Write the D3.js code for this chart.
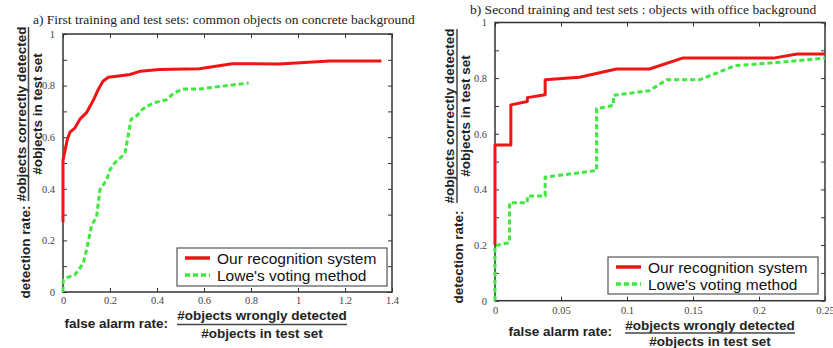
<!DOCTYPE html>
<html>
<head>
<meta charset="utf-8">
<script src="https://cdn.jsdelivr.net/npm/d3@7"></script>
<style>
    body { margin: 0; background: #fff; }
    svg { display: block; }
    .tick text { font-family: "Liberation Serif", "DejaVu Serif", serif; font-size: 10.5px; fill: #444; }
    .tick line { stroke: #333; }
    .title { font-family: "Liberation Serif", serif; font-size: 13.5px; fill: #222; }
    .axis-label { font-family: "Liberation Sans", Arial, sans-serif; font-size: 13.5px; font-weight: bold; fill: #222; }
    .legend-text { font-family: "Liberation Sans", Arial, sans-serif; font-size: 15.5px; fill: #111; }
</style>
</head>
<body>
<svg id="chart" width="833" height="348"></svg>
<script>
// values: [false alarm rate, detection rate]
const oursFirst = [
    [0, 0.27], [0, 0.51], [0.009, 0.55], [0.018, 0.59], [0.03, 0.62], [0.05, 0.635],
    [0.072, 0.67], [0.10, 0.695], [0.13, 0.745], [0.15, 0.785], [0.17, 0.817],
    [0.193, 0.832], [0.228, 0.836], [0.285, 0.843], [0.33, 0.856], [0.41, 0.862],
    [0.58, 0.865], [0.72, 0.885], [0.92, 0.884], [1.135, 0.895], [1.355, 0.895]
];
const loweFirst = [
    [0, 0], [0.001, 0.045], [0.016, 0.056], [0.05, 0.066], [0.072, 0.093], [0.086, 0.11],
    [0.1, 0.163], [0.122, 0.26], [0.143, 0.29], [0.157, 0.396], [0.186, 0.435],
    [0.2, 0.474], [0.22, 0.5], [0.25, 0.525], [0.264, 0.54], [0.274, 0.59],
    [0.29, 0.67], [0.31, 0.68], [0.34, 0.71], [0.385, 0.733], [0.44, 0.745],
    [0.47, 0.77], [0.51, 0.787], [0.58, 0.787], [0.79, 0.81]
];
const oursSecond = [
    [0, 0.2], [0, 0.56], [0.012, 0.56], [0.012, 0.704], [0.0245, 0.716], [0.0245, 0.73],
    [0.038, 0.74], [0.038, 0.794], [0.064, 0.803], [0.092, 0.833], [0.117, 0.833],
    [0.142, 0.872], [0.211, 0.872], [0.229, 0.887], [0.25, 0.887]
];
const loweSecond = [
    [0, 0], [0, 0.198], [0.011, 0.209], [0.011, 0.352], [0.0245, 0.352], [0.0245, 0.376],
    [0.038, 0.376], [0.038, 0.444], [0.077, 0.468], [0.077, 0.69], [0.0897, 0.702],
    [0.0897, 0.738], [0.117, 0.755], [0.13, 0.794], [0.155, 0.794], [0.182, 0.845],
    [0.208, 0.854], [0.25, 0.872]
];

const titles = [
    "a) First training and test sets: common objects on concrete background",
    "b) Second training and test sets : objects with office background"
];
const seriesNames = ["Our recognition system", "Lowe's voting method"];
const yTickValues = [0, 0.1, 0.2, 0.3, 0.4, 0.5, 0.6, 0.7, 0.8, 0.9, 1];
const xTickValuesFirst = [0, 0.2, 0.4, 0.6, 0.8, 1, 1.2, 1.4];
const xTickValuesSecond = [0, 0.05, 0.1, 0.15, 0.2, 0.25];
const yLabel = ["detection rate:", "#objects correctly detected", "#objects in test set"];
const xLabel = ["false alarm rate:", "#objects wrongly detected", "#objects in test set"];

const colors = { ours: "#ee1515", lowe: "#3ee83e" };

const svg = d3.select("#chart");

const panels = [
    {
        title: titles[0], titleX: 33, titleY: 24,
        left: 63, right: 392, top: 34, bottom: 292, xMax: 1.4,
        xTicks: xTickValuesFirst, xPad: 5,
        ours: oursFirst, lowe: loweFirst,
        yLab: { rateX: 30, rateY: 252, numX: 25.5, denX: 42, fracY: 114, lineX: 28.5, half: 87 },
        xLab: { rateX: 168, rateY: 328, numY: 320, denY: 338, fracX: 262, lineY: 324.5, half: 85 },
        legend: { x: 177, y: 248, w: 210, h: 38 }
    },
    {
        title: titles[1], titleX: 470, titleY: 14,
        left: 495, right: 825, top: 22.5, bottom: 300.7, xMax: 0.25,
        xTicks: xTickValuesSecond, xPad: 6,
        ours: oursSecond, lowe: loweSecond,
        yLab: { rateX: 463, rateY: 257, numX: 454, denX: 470, fracY: 116, lineX: 457, half: 87 },
        xLab: { rateX: 612, rateY: 336, numY: 329.5, denY: 345.5, fracX: 710, lineY: 333, half: 85 },
        legend: { x: 608, y: 257, w: 210, h: 37 }
    }
];

function drawPanel(p) {
    const g = svg.append("g");

    const x = d3.scaleLinear().domain([0, p.xMax]).range([p.left, p.right]);
    const y = d3.scaleLinear().domain([0, 1]).range([p.bottom, p.top]);

    // title
    g.append("text")
        .attr("class", "title")
        .attr("x", p.titleX)
        .attr("y", p.titleY)
        .text(p.title);

    // axes, ticks pointing inward on all four sides
    g.append("g")
        .attr("transform", `translate(0,${p.bottom})`)
        .call(d3.axisBottom(x).tickValues(p.xTicks).tickSizeInner(-4).tickSizeOuter(0)
            .tickPadding(p.xPad).tickFormat(d3.format("~g")))
        .call(a => a.select(".domain").remove());
    g.append("g")
        .attr("transform", `translate(0,${p.top})`)
        .call(d3.axisTop(x).tickValues(p.xTicks).tickSizeInner(-4).tickSizeOuter(0).tickFormat(""))
        .call(a => a.select(".domain").remove());
    g.append("g")
        .attr("transform", `translate(${p.left},0)`)
        .call(d3.axisLeft(y).tickValues(yTickValues).tickSizeInner(-4).tickSizeOuter(0)
            .tickPadding(8).tickFormat((d, i) => i % 2 ? "" : d3.format("~g")(d)))
        .call(a => a.select(".domain").remove());
    g.append("g")
        .attr("transform", `translate(${p.right},0)`)
        .call(d3.axisRight(y).tickValues(yTickValues).tickSizeInner(-4).tickSizeOuter(0).tickFormat(""))
        .call(a => a.select(".domain").remove());

    g.append("rect")
        .attr("x", p.left)
        .attr("y", p.top)
        .attr("width", p.right - p.left)
        .attr("height", p.bottom - p.top)
        .attr("fill", "none")
        .attr("stroke", "#333")
        .attr("stroke-width", 1.5);

    // curves
    const line = d3.line().x(d => x(d[0])).y(d => y(d[1]));

    g.append("path")
        .datum(p.ours)
        .attr("d", line)
        .attr("fill", "none")
        .attr("stroke", colors.ours)
        .attr("stroke-width", 3)
        .attr("stroke-linejoin", "round");

    g.append("path")
        .datum(p.lowe)
        .attr("d", line)
        .attr("fill", "none")
        .attr("stroke", colors.lowe)
        .attr("stroke-width", 3)
        .attr("stroke-dasharray", "5,3");

    // y axis label (rotated fraction)
    const yl = p.yLab;
    g.append("text")
        .attr("class", "axis-label")
        .attr("transform", `translate(${yl.rateX},${yl.rateY}) rotate(-90)`)
        .attr("text-anchor", "middle")
        .text(yLabel[0]);
    g.append("text")
        .attr("class", "axis-label")
        .attr("transform", `translate(${yl.numX},${yl.fracY}) rotate(-90)`)
        .attr("text-anchor", "middle")
        .text(yLabel[1]);
    g.append("line")
        .attr("x1", yl.lineX).attr("x2", yl.lineX)
        .attr("y1", yl.fracY - yl.half).attr("y2", yl.fracY + yl.half)
        .attr("stroke", "#444").attr("stroke-width", 1.5);
    g.append("text")
        .attr("class", "axis-label")
        .attr("transform", `translate(${yl.denX},${yl.fracY}) rotate(-90)`)
        .attr("text-anchor", "middle")
        .text(yLabel[2]);

    // x axis label
    const xl = p.xLab;
    g.append("text")
        .attr("class", "axis-label")
        .attr("x", xl.rateX)
        .attr("y", xl.rateY)
        .attr("text-anchor", "end")
        .text(xLabel[0]);
    g.append("text")
        .attr("class", "axis-label")
        .attr("x", xl.fracX)
        .attr("y", xl.numY)
        .attr("text-anchor", "middle")
        .text(xLabel[1]);
    g.append("line")
        .attr("x1", xl.fracX - xl.half).attr("x2", xl.fracX + xl.half)
        .attr("y1", xl.lineY).attr("y2", xl.lineY)
        .attr("stroke", "#444").attr("stroke-width", 1.5);
    g.append("text")
        .attr("class", "axis-label")
        .attr("x", xl.fracX)
        .attr("y", xl.denY)
        .attr("text-anchor", "middle")
        .text(xLabel[2]);

    // legend
    const lg = p.legend;
    g.append("rect")
        .attr("x", lg.x).attr("y", lg.y)
        .attr("width", lg.w).attr("height", lg.h)
        .attr("fill", "#fff")
        .attr("stroke", "#555")
        .attr("stroke-width", 1.2);

    const rows = [
        { name: seriesNames[0], color: colors.ours, dash: null },
        { name: seriesNames[1], color: colors.lowe, dash: "5,3" }
    ];
    rows.forEach((r, i) => {
        const cy = lg.y + 10 + i * 17;
        g.append("line")
            .attr("x1", lg.x + 8).attr("x2", lg.x + 33)
            .attr("y1", cy).attr("y2", cy)
            .attr("stroke", r.color)
            .attr("stroke-width", 3.5)
            .attr("stroke-dasharray", r.dash);
        g.append("text")
            .attr("class", "legend-text")
            .attr("x", lg.x + 40)
            .attr("y", cy + 5.5)
            .text(r.name);
    });
}

panels.forEach(drawPanel);
</script>
</body>
</html>
